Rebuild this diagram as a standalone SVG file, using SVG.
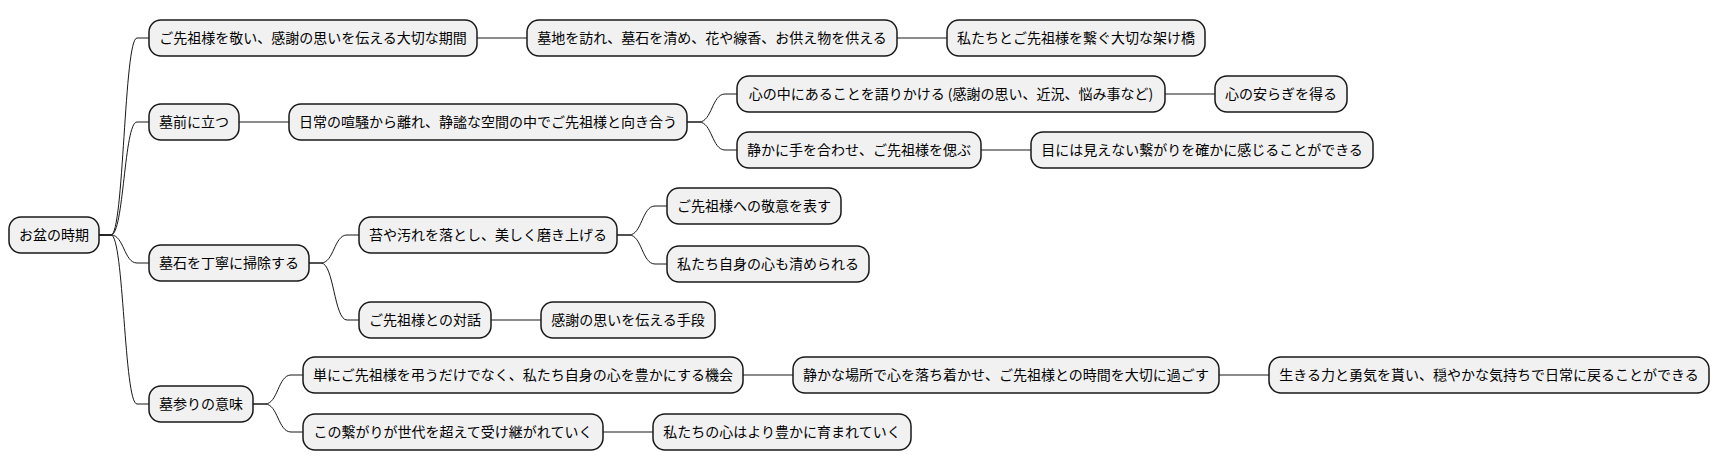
<svg xmlns="http://www.w3.org/2000/svg" width="1720" height="471" viewBox="0 0 1720 471">
<style>
.n rect{fill:#F1F1F1;stroke:#181818;stroke-width:1.5}
.n text{font-family:"Noto Sans CJK JP","Noto Sans",sans-serif;font-size:14px;fill:#000;text-anchor:middle}
.c path{fill:none;stroke:#181818;stroke-width:1}
</style>
<rect width="1720" height="471" fill="#FFFFFF"/>
<g class="c" id="connectors">
<path d="M99 235h12C124 235 124 38 137 38H149"/>
<path d="M99 235h12C124 235 124 122 137 122H149"/>
<path d="M99 235h12C124 235 124 263 137 263H149"/>
<path d="M99 235h12C124 235 124 404 137 404H149"/>
<path d="M477 38H527"/>
<path d="M897 38H947"/>
<path d="M239 122H289"/>
<path d="M687 122h12C712 122 712 94 725 94H737"/>
<path d="M687 122h12C712 122 712 150 725 150H737"/>
<path d="M1165 94H1215"/>
<path d="M981 150H1031"/>
<path d="M309 263h12C334 263 334 235 347 235H359"/>
<path d="M309 263h12C334 263 334 320 347 320H359"/>
<path d="M617 235h12C642 235 642 206 655 206H667"/>
<path d="M617 235h12C642 235 642 264 655 264H667"/>
<path d="M491 320H541"/>
<path d="M253 404h12C278 404 278 375 291 375H303"/>
<path d="M253 404h12C278 404 278 432 291 432H303"/>
<path d="M743 375H793"/>
<path d="M1219 375H1269"/>
<path d="M603 432H653"/>
</g>
<g class="n" id="root"><rect x="9" y="217" width="90" height="36" rx="12"/><text x="54" y="240">お盆の時期</text></g>
<g class="n" id="n1"><rect x="149" y="20" width="328" height="36" rx="12"/><text x="313" y="43">ご先祖様を敬い、感謝の思いを伝える大切な期間</text></g>
<g class="n" id="n1a"><rect x="527" y="20" width="370" height="36" rx="12"/><text x="712" y="43">墓地を訪れ、墓石を清め、花や線香、お供え物を供える</text></g>
<g class="n" id="n1b"><rect x="947" y="20" width="258" height="36" rx="12"/><text x="1076" y="43">私たちとご先祖様を繋ぐ大切な架け橋</text></g>
<g class="n" id="n2"><rect x="149" y="104" width="90" height="36" rx="12"/><text x="194" y="127">墓前に立つ</text></g>
<g class="n" id="n2a"><rect x="289" y="104" width="398" height="36" rx="12"/><text x="488" y="127">日常の喧騒から離れ、静謐な空間の中でご先祖様と向き合う</text></g>
<g class="n" id="n2a1"><rect x="737" y="76" width="428" height="36" rx="12"/><text x="951" y="99">心の中にあることを語りかける (感謝の思い、近況、悩み事など)</text></g>
<g class="n" id="n2a1a"><rect x="1215" y="76" width="132" height="36" rx="12"/><text x="1281" y="99">心の安らぎを得る</text></g>
<g class="n" id="n2a2"><rect x="737" y="132" width="244" height="36" rx="12"/><text x="859" y="155">静かに手を合わせ、ご先祖様を偲ぶ</text></g>
<g class="n" id="n2a2a"><rect x="1031" y="132" width="342" height="36" rx="12"/><text x="1202" y="155">目には見えない繋がりを確かに感じることができる</text></g>
<g class="n" id="n3"><rect x="149" y="245" width="160" height="36" rx="12"/><text x="229" y="268">墓石を丁寧に掃除する</text></g>
<g class="n" id="n3a"><rect x="359" y="217" width="258" height="36" rx="12"/><text x="488" y="240">苔や汚れを落とし、美しく磨き上げる</text></g>
<g class="n" id="n3a1"><rect x="667" y="188" width="174" height="36" rx="12"/><text x="754" y="211">ご先祖様への敬意を表す</text></g>
<g class="n" id="n3a2"><rect x="667" y="246" width="202" height="36" rx="12"/><text x="768" y="269">私たち自身の心も清められる</text></g>
<g class="n" id="n3b"><rect x="359" y="302" width="132" height="36" rx="12"/><text x="425" y="325">ご先祖様との対話</text></g>
<g class="n" id="n3b1"><rect x="541" y="302" width="174" height="36" rx="12"/><text x="628" y="325">感謝の思いを伝える手段</text></g>
<g class="n" id="n4"><rect x="149" y="386" width="104" height="36" rx="12"/><text x="201" y="409">墓参りの意味</text></g>
<g class="n" id="n4a"><rect x="303" y="357" width="440" height="36" rx="12"/><text x="523" y="380">単にご先祖様を弔うだけでなく、私たち自身の心を豊かにする機会</text></g>
<g class="n" id="n4a1"><rect x="793" y="357" width="426" height="36" rx="12"/><text x="1006" y="380">静かな場所で心を落ち着かせ、ご先祖様との時間を大切に過ごす</text></g>
<g class="n" id="n4a1a"><rect x="1269" y="357" width="440" height="36" rx="12"/><text x="1489" y="380">生きる力と勇気を貰い、穏やかな気持ちで日常に戻ることができる</text></g>
<g class="n" id="n4b"><rect x="303" y="414" width="300" height="36" rx="12"/><text x="453" y="437">この繋がりが世代を超えて受け継がれていく</text></g>
<g class="n" id="n4b1"><rect x="653" y="414" width="258" height="36" rx="12"/><text x="782" y="437">私たちの心はより豊かに育まれていく</text></g>
</svg>
